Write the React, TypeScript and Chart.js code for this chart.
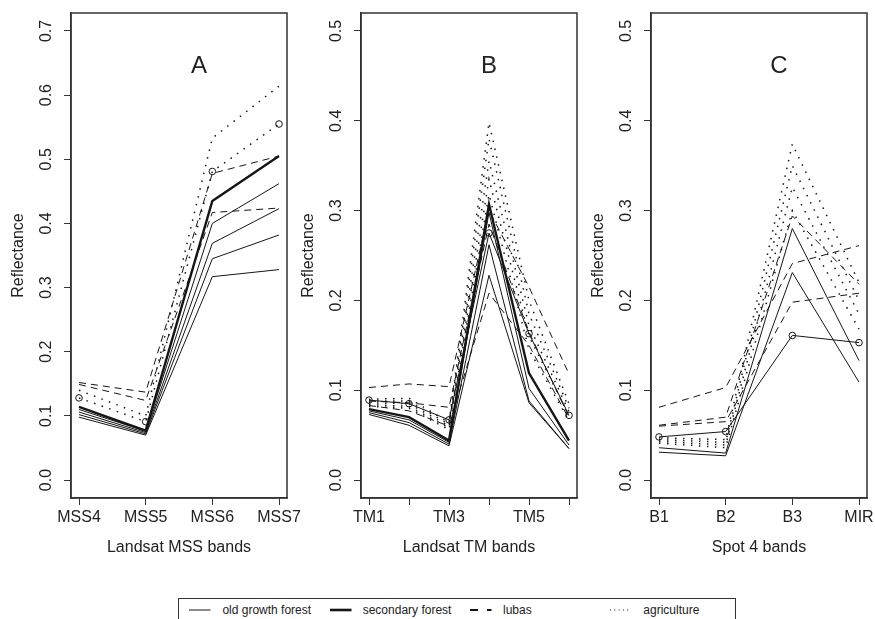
import React, { useEffect, useRef } from 'react';
import { Chart, registerables } from 'chart.js';

Chart.register(...registerables);

const FONT = '"Liberation Sans", Arial, Helvetica, sans-serif';
const INK = '#151515';
const TEXT = '#222222';
const AXIS = '#333333';

// ---------- Panel A : Landsat MSS ----------
const mssBands = ['MSS4', 'MSS5', 'MSS6', 'MSS7'];
const mssYTicks = [0, 0.1, 0.2, 0.3, 0.4, 0.5, 0.6, 0.7];
const mssOld1 = [0.110, 0.076, 0.400, 0.462];
const mssOld2 = [0.106, 0.074, 0.369, 0.423];
const mssOld3 = [0.102, 0.072, 0.345, 0.382];
const mssOld4 = [0.098, 0.070, 0.317, 0.328];
const mssSecondary = [0.114, 0.077, 0.435, 0.505];
const mssLubas1 = [0.152, 0.137, 0.478, 0.505];
const mssLubas2 = [0.149, 0.124, 0.417, 0.424];
const mssAgri1 = [0.140, 0.100, 0.533, 0.614];
const mssMarked = [0.128, 0.091, 0.481, 0.555];

// ---------- Panel B : Landsat TM ----------
const tmBands = ['TM1', '', 'TM3', '', 'TM5', ''];
const tmYTicks = [0, 0.1, 0.2, 0.3, 0.4, 0.5];
const tmOld1 = [0.077, 0.067, 0.042, 0.298, 0.102, 0.039];
const tmOld2 = [0.075, 0.064, 0.040, 0.262, 0.088, 0.035];
const tmOld3 = [0.073, 0.061, 0.038, 0.228, 0.086, 0.035];
const tmSecondary = [0.079, 0.070, 0.044, 0.307, 0.119, 0.044];
const tmLubas1 = [0.103, 0.107, 0.104, 0.300, 0.215, 0.118];
const tmLubas2 = [0.088, 0.086, 0.081, 0.285, 0.165, 0.070];
const tmLubas3 = [0.083, 0.077, 0.060, 0.208, 0.150, 0.068];
const tmAgri1 = [0.090, 0.091, 0.064, 0.398, 0.200, 0.085];
const tmAgri2 = [0.088, 0.088, 0.062, 0.380, 0.185, 0.080];
const tmAgri3 = [0.086, 0.085, 0.060, 0.355, 0.172, 0.076];
const tmAgri4 = [0.084, 0.082, 0.058, 0.335, 0.160, 0.072];
const tmAgri5 = [0.082, 0.080, 0.056, 0.318, 0.145, 0.066];
const tmMarked = [0.089, 0.085, 0.067, 0.275, 0.163, 0.072];

// ---------- Panel C : Spot 4 ----------
const spotBands = ['B1', 'B2', 'B3', 'MIR'];
const spotYTicks = [0, 0.1, 0.2, 0.3, 0.4, 0.5];
const spotOld1 = [0.036, 0.030, 0.280, 0.133];
const spotOld2 = [0.031, 0.027, 0.231, 0.109];
const spotLubas1 = [0.081, 0.103, 0.241, 0.261];
const spotLubas2 = [0.061, 0.070, 0.294, 0.218];
const spotLubas3 = [0.060, 0.065, 0.198, 0.208];
const spotAgri1 = [0.047, 0.045, 0.374, 0.220];
const spotAgri2 = [0.045, 0.042, 0.350, 0.200];
const spotAgri3 = [0.043, 0.039, 0.326, 0.185];
const spotAgri4 = [0.041, 0.036, 0.300, 0.168];
const spotMarked = [0.048, 0.054, 0.161, 0.153];

const legendLabels = ['old growth forest', 'secondary forest', 'lubas', 'agriculture'];

type Kind = 'old' | 'secondary' | 'lubas' | 'agri';
interface Series { values: number[]; kind: Kind; marked?: boolean }

const kindStyle: Record<Kind, { width: number; dash: number[] }> = {
  old: { width: 1, dash: [] },
  secondary: { width: 2.4, dash: [] },
  lubas: { width: 1, dash: [7, 5] },
  agri: { width: 1.5, dash: [1.5, 6.5] },
};

const panelA: Series[] = [
  { values: mssOld1, kind: 'old' },
  { values: mssOld2, kind: 'old' },
  { values: mssOld3, kind: 'old' },
  { values: mssOld4, kind: 'old' },
  { values: mssSecondary, kind: 'secondary' },
  { values: mssLubas1, kind: 'lubas' },
  { values: mssLubas2, kind: 'lubas' },
  { values: mssAgri1, kind: 'agri' },
  { values: mssMarked, kind: 'agri', marked: true },
];

const panelB: Series[] = [
  { values: tmOld1, kind: 'old' },
  { values: tmOld2, kind: 'old' },
  { values: tmOld3, kind: 'old' },
  { values: tmSecondary, kind: 'secondary' },
  { values: tmLubas1, kind: 'lubas' },
  { values: tmLubas2, kind: 'lubas' },
  { values: tmLubas3, kind: 'lubas' },
  { values: tmAgri1, kind: 'agri' },
  { values: tmAgri2, kind: 'agri' },
  { values: tmAgri3, kind: 'agri' },
  { values: tmAgri4, kind: 'agri' },
  { values: tmAgri5, kind: 'agri' },
  { values: tmMarked, kind: 'old', marked: true },
];

const panelC: Series[] = [
  { values: spotOld1, kind: 'old' },
  { values: spotOld2, kind: 'old' },
  { values: spotLubas1, kind: 'lubas' },
  { values: spotLubas2, kind: 'lubas' },
  { values: spotLubas3, kind: 'lubas' },
  { values: spotAgri1, kind: 'agri' },
  { values: spotAgri2, kind: 'agri' },
  { values: spotAgri3, kind: 'agri' },
  { values: spotAgri4, kind: 'agri' },
  { values: spotMarked, kind: 'old', marked: true },
];

const framePlugin = {
  id: 'frame',
  afterDraw(chart: any, _args: any, opts: any) {
    const { ctx, chartArea } = chart;
    const { left, top, right, bottom } = chartArea;
    ctx.save();
    ctx.strokeStyle = AXIS;
    ctx.lineWidth = 1.5;
    ctx.strokeRect(left, top, right - left, bottom - top);
    ctx.fillStyle = TEXT;
    ctx.font = `24px ${FONT}`;
    ctx.textAlign = 'center';
    ctx.textBaseline = 'middle';
    ctx.fillText(opts.letter, chart.scales.x.getPixelForValue(opts.lx), chart.scales.y.getPixelForValue(opts.ly));
    ctx.restore();
  },
};

interface PanelProps {
  left: number;
  bands: string[];
  yMax: number;
  yTicks: number[];
  series: Series[];
  xTitle: string;
  letter: string;
}

const CANVAS_W = 320;

function Panel({ left, bands, yMax, yTicks, series, xTitle, letter }: PanelProps) {
  const ref = useRef<HTMLCanvasElement>(null);
  useEffect(() => {
    const n = bands.length;
    const xExt = (n - 1) * 0.04;
    const yExt = yMax * 0.04;
    const zeroPad = (sc: any) => {
      sc.paddingLeft = 0;
      sc.paddingRight = 0;
      sc.paddingTop = 0;
      sc.paddingBottom = 0;
    };
    const chart = new Chart(ref.current as HTMLCanvasElement, {
      type: 'line',
      data: {
        datasets: series.map((s) => ({
          data: s.values.map((v, i) => ({ x: i + 1, y: v })),
          borderColor: INK,
          borderWidth: kindStyle[s.kind].width,
          borderDash: kindStyle[s.kind].dash,
          pointRadius: s.marked ? 3.3 : 0,
          pointBorderColor: INK,
          pointBackgroundColor: 'rgba(0,0,0,0)',
          pointBorderWidth: 1,
          tension: 0,
          fill: false,
        })),
      },
      options: {
        responsive: false,
        animation: false,
        devicePixelRatio: 1,
        layout: { padding: { left: 0, right: CANVAS_W - 287, top: 13, bottom: 0 } },
        plugins: {
          legend: { display: false },
          tooltip: { enabled: false },
          frame: { letter, lx: 1 + (n - 1) * 0.6, ly: yMax * 0.922 },
        } as any,
        scales: {
          x: {
            type: 'linear',
            min: 1 - xExt,
            max: n + xExt,
            afterBuildTicks: (sc: any) => {
              sc.ticks = bands.map((_, i) => ({ value: i + 1 }));
            },
            afterFit: (sc: any) => {
              sc.height = 62;
              zeroPad(sc);
            },
            ticks: {
              callback: (v: any) => bands[Math.round(Number(v)) - 1] ?? '',
              autoSkip: false,
              maxRotation: 0,
              minRotation: 0,
              padding: 3,
              color: TEXT,
              font: { family: FONT, size: 16 },
            },
            grid: { drawOnChartArea: false, drawTicks: true, tickLength: 7, color: AXIS, lineWidth: 1 },
            border: { display: true, color: AXIS, width: 1.5 },
            title: {
              display: true,
              text: xTitle,
              color: TEXT,
              font: { family: FONT, size: 16 },
              padding: { top: 0, bottom: 2.5 },
            },
          },
          y: {
            type: 'linear',
            min: -yExt,
            max: yMax + yExt,
            afterBuildTicks: (sc: any) => {
              sc.ticks = yTicks.map((v) => ({ value: v }));
            },
            afterFit: (sc: any) => {
              sc.width = 71;
              zeroPad(sc);
            },
            ticks: {
              callback: (v: any) => Number(v).toFixed(1),
              autoSkip: false,
              minRotation: 90,
              maxRotation: 90,
              crossAlign: 'center',
              padding: 6.4,
              color: TEXT,
              font: { family: FONT, size: 16 },
            },
            grid: { drawOnChartArea: false, drawTicks: true, tickLength: 7, color: AXIS, lineWidth: 1 },
            border: { display: true, color: AXIS, width: 1.5 },
            title: {
              display: true,
              text: 'Reflectance',
              color: TEXT,
              font: { family: FONT, size: 16 },
              padding: { top: 8.5, bottom: 0 },
            },
          },
        },
      } as any,
      plugins: [framePlugin],
    });
    return () => chart.destroy();
  }, []);
  return (
    <canvas
      ref={ref}
      width={CANVAS_W}
      height={560}
      style={{ position: 'absolute', left: left - 71, top: 0, width: CANVAS_W, height: 560 }}
    />
  );
}

const legendSamples = [
  { width: 1, dash: '' },
  { width: 2.6, dash: '' },
  { width: 2.2, dash: '8 9' },
  { width: 1, dash: '1 3.3' },
];

function Legend() {
  return (
    <div
      style={{
        position: 'absolute',
        left: 178,
        top: 598,
        width: 558,
        height: 26,
        boxSizing: 'border-box',
        border: `1px solid ${AXIS}`,
        fontFamily: FONT,
        fontSize: 12,
        color: TEXT,
      }}
    >
      {legendLabels.map((label, k) => (
        <React.Fragment key={label}>
          <svg
            width={22}
            height={10}
            style={{ position: 'absolute', left: 10.3 + 140.3 * k, top: 5.5 }}
          >
            <line
              x1={0}
              y1={5}
              x2={21.5}
              y2={5}
              stroke={INK}
              strokeWidth={legendSamples[k].width}
              strokeDasharray={legendSamples[k].dash || undefined}
            />
          </svg>
          <span
            style={{
              position: 'absolute',
              left: 43.4 + 140.3 * k,
              top: 10.5,
              transform: 'translateY(-50%)',
              whiteSpace: 'nowrap',
              lineHeight: '14px',
            }}
          >
            {label}
          </span>
        </React.Fragment>
      ))}
    </div>
  );
}

export default function App() {
  return (
    <div
      style={{
        position: 'absolute',
        left: 0,
        top: 0,
        width: 875,
        height: 619,
        overflow: 'hidden',
        background: '#ffffff',
      }}
    >
      <Panel left={71} bands={mssBands} yMax={0.7} yTicks={mssYTicks} series={panelA} xTitle="Landsat MSS bands" letter="A" />
      <Panel left={361} bands={tmBands} yMax={0.5} yTicks={tmYTicks} series={panelB} xTitle="Landsat TM bands" letter="B" />
      <Panel left={651} bands={spotBands} yMax={0.5} yTicks={spotYTicks} series={panelC} xTitle="Spot 4 bands" letter="C" />
      <Legend />
    </div>
  );
}
